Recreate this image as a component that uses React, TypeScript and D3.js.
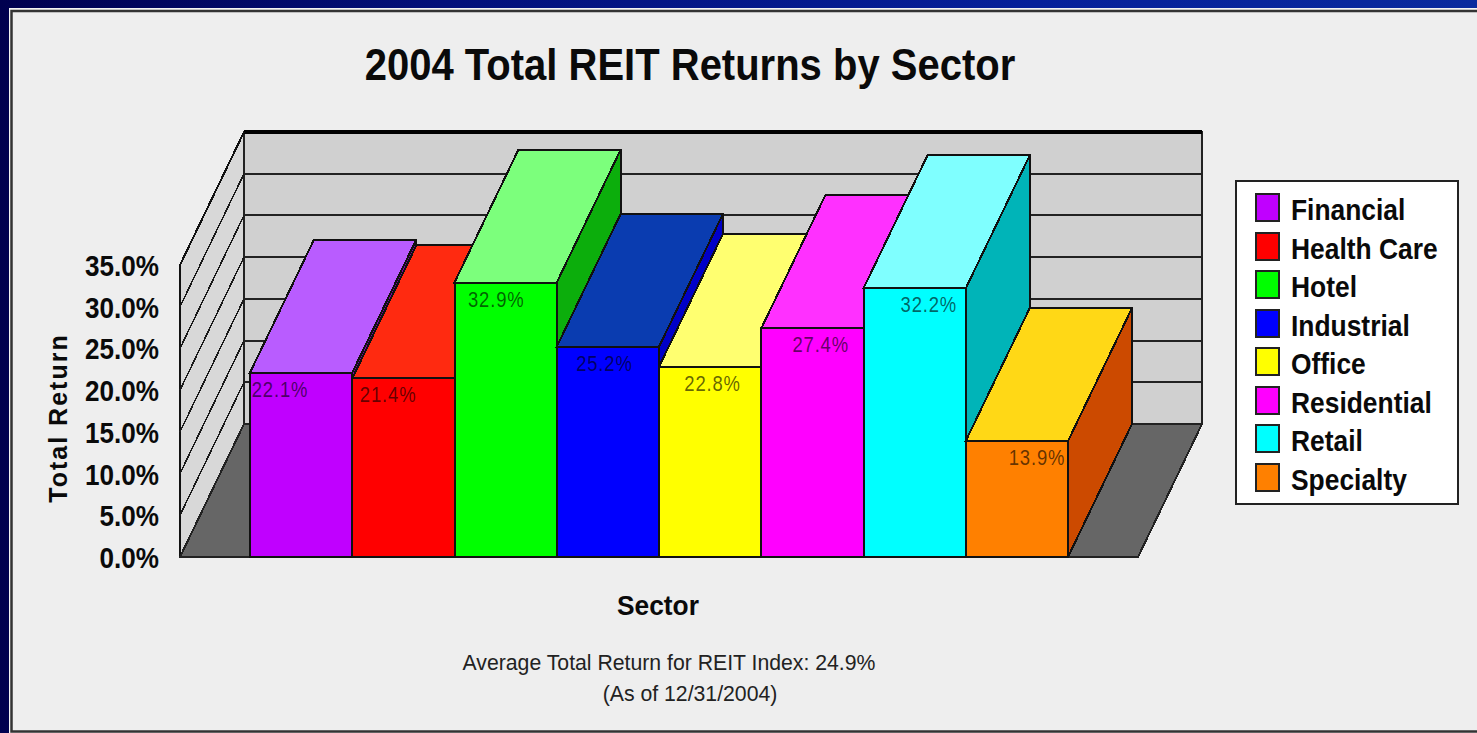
import React from "react";
import * as d3 from "d3";

const sectors = ["Financial", "Health Care", "Hotel", "Industrial", "Office", "Residential", "Retail", "Specialty"];
const returns = [22.1, 21.4, 32.9, 25.2, 22.8, 27.4, 32.2, 13.9];
const frontColors = ["#c000ff", "#ff0000", "#00ff00", "#0000ff", "#ffff00", "#ff00ff", "#00ffff", "#ff8000"];
const topColors = ["#b95cff", "#ff2a10", "#7cff7c", "#0a3cb0", "#ffff70", "#ff30ff", "#7fffff", "#ffd816"];
const sideColors = ["#7a00a8", "#b00000", "#0cae0c", "#0000c8", "#c8c800", "#c000c0", "#00b4b8", "#cc4a00"];
const yTicks = [0, 5, 10, 15, 20, 25, 30, 35];

const W = 1477;
const H = 733;
const DX = 64;
const DY = 133;
const FONT = "'Liberation Sans', Arial, sans-serif";

const y = d3.scaleLinear().domain([0, 35]).range([557, 265]);
const x = d3.scaleBand<string>().domain(sectors).range([250, 1068]);
const labelX = d3.scalePoint<string>().domain(sectors).range([280, 1037]);
const legendY = d3.scalePoint<string>().domain(sectors).range([210, 480]);
const floorLeft = 180;
const floorRight = 1138;

const poly = d3.line<[number, number]>();
const quad = (pts: [number, number][]) => poly(pts) + "Z";

// Captions are set condensed, the way the old charting control rendered them.
function Condensed(props: {
  x: number;
  y: number;
  size: number;
  sx: number;
  anchor?: string;
  weight?: string;
  fill?: string;
  opacity?: number;
  spacing?: number;
  children: React.ReactNode;
}) {
  return (
    <text
      transform={`translate(${props.x},${props.y}) scale(${props.sx},1)`}
      fontFamily={FONT}
      fontWeight={props.weight ?? "bold"}
      fontSize={props.size}
      textAnchor={props.anchor ?? "start"}
      letterSpacing={props.spacing ?? 0}
      fill={props.fill ?? "#0a0a0a"}
      fillOpacity={props.opacity ?? 1}
    >
      {props.children}
    </text>
  );
}

export default function App() {
  const y0 = y(0);
  const yTop = y(35);
  return (
    <svg width={W} height={H} viewBox={`0 0 ${W} ${H}`} style={{ position: "absolute", left: 0, top: 0, display: "block" }}>
      <defs>
        <linearGradient id="deck" x1="0" x2="1" y1="0" y2="0">
          <stop offset="0" stopColor="#00004f" />
          <stop offset="0.3" stopColor="#03107a" />
          <stop offset="0.7" stopColor="#06209a" />
          <stop offset="1" stopColor="#0a2a9e" />
        </linearGradient>
      </defs>
      <rect width={W} height={H} fill="url(#deck)" />
      <rect x={9} y={8} width={W - 9} height={H - 8} fill="#f4f4f4" />
      <rect x={11.5} y={11} width={W} height={H - 12.5} fill="#eeeeee" stroke="#333" strokeWidth={2.5} />

      <Condensed x={690} y={80} size={45} sx={0.889} anchor="middle">2004 Total REIT Returns by Sector</Condensed>

      <g shapeRendering="crispEdges">
        {/* left wall, back wall and floor */}
        <path d={quad([[floorLeft, yTop], [floorLeft + DX, yTop - DY], [floorLeft + DX, y0 - DY], [floorLeft, y0]])} fill="#d8d8d8" stroke="#111" strokeWidth={1.5} />
        <rect x={floorLeft + DX} y={yTop - DY} width={floorRight - floorLeft} height={y0 - yTop} fill="#d0d0d0" stroke="#222" strokeWidth={2} />
        <path d={quad([[floorLeft, y0], [floorRight, y0], [floorRight + DX, y0 - DY], [floorLeft + DX, y0 - DY]])} fill="#666666" stroke="#222" strokeWidth={2} />
        {yTicks.map((t) => (
          <g key={t} stroke="#1a1a1a">
            {t > 0 && t < 35 && <line x1={floorLeft} x2={floorLeft + DX} y1={y(t)} y2={y(t) - DY} strokeWidth={1.5} />}
            {t > 0 && <line x1={floorLeft + DX} x2={floorRight + DX} y1={y(t) - DY} y2={y(t) - DY} strokeWidth={t === 35 ? 4 : 2} stroke={t === 35 ? "#000" : "#222"} />}
          </g>
        ))}
        <line x1={floorLeft} x2={floorLeft + DX} y1={yTop} y2={yTop - DY} stroke="#111" strokeWidth={2} />

        {/* bars painted left to right so each one hides the previous side face */}
        {sectors.map((s, i) => {
          const l = x(s)!;
          const r = l + x.bandwidth();
          const t = y(returns[i]);
          return (
            <g key={s} stroke="#111" strokeWidth={2}>
              <path d={quad([[r, t], [r + DX, t - DY], [r + DX, y0 - DY], [r, y0]])} fill={sideColors[i]} />
              <path d={quad([[l, t], [l + DX, t - DY], [r + DX, t - DY], [r, t]])} fill={topColors[i]} />
              <rect x={l} y={t} width={r - l} height={y0 - t} fill={frontColors[i]} />
            </g>
          );
        })}
      </g>

      {sectors.map((s, i) => (
        <Condensed key={s} x={labelX(s)!} y={y(returns[i]) + 24} size={22} sx={0.84} anchor="middle" weight="normal" fill="#000" opacity={0.62} spacing={1}>
          {returns[i].toFixed(1)}%
        </Condensed>
      ))}

      {yTicks.map((t) => (
        <Condensed key={t} x={159} y={y(t) + 11} size={29} sx={0.9} anchor="end">{t.toFixed(1)}%</Condensed>
      ))}

      <text transform="translate(67,418) rotate(-90)" textAnchor="middle" fontFamily={FONT} fontWeight="bold" fontSize={25} letterSpacing={2} fill="#0a0a0a">Total Return</text>
      <Condensed x={658} y={615} size={28} sx={0.94} anchor="middle">Sector</Condensed>

      <Condensed x={669} y={670} size={22} sx={0.965} anchor="middle" weight="normal" fill="#222">Average Total Return for REIT Index: 24.9%</Condensed>
      <Condensed x={690} y={701} size={22} sx={0.965} anchor="middle" weight="normal" fill="#222">(As of 12/31/2004)</Condensed>

      <rect x={1236} y={181} width={222} height={323} fill="#ffffff" stroke="#222" strokeWidth={2} shapeRendering="crispEdges" />
      {sectors.map((s, i) => {
        const c = legendY(s)!;
        return (
          <g key={s}>
            <rect x={1255.5} y={c - 16} width={23} height={27} fill={frontColors[i]} stroke="#222" strokeWidth={2} shapeRendering="crispEdges" />
            <Condensed x={1291} y={c + 10} size={29} sx={0.91}>{s}</Condensed>
          </g>
        );
      })}
    </svg>
  );
}
